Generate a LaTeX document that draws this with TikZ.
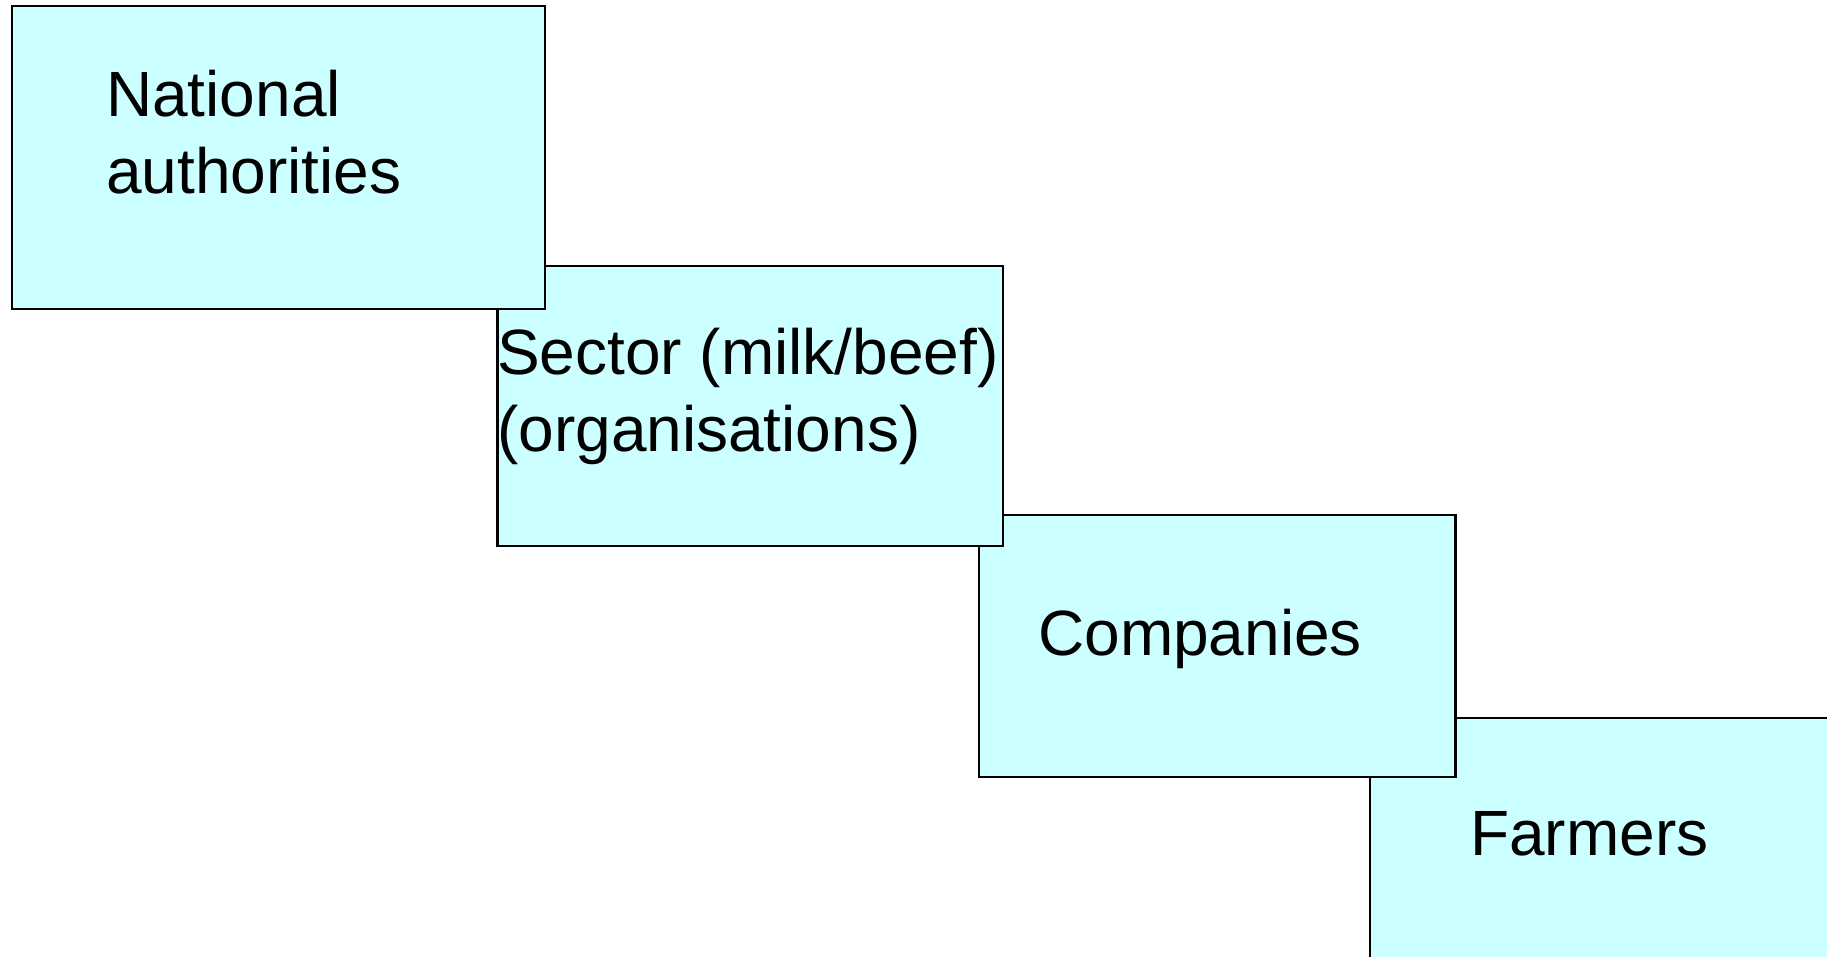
\documentclass[tikz,border=0pt]{standalone}
\usepackage{fontspec}
\setmainfont{Liberation Sans}
\definecolor{boxfill}{RGB}{204,255,255}
\begin{document}
\begin{tikzpicture}[x=1pt,y=-1pt,
  box/.style={draw=black, fill=boxfill, line width=2.2pt, rectangle, inner sep=0pt, outer sep=0pt, anchor=north west},
  lbl/.style={inner sep=0pt, anchor=base west, font=\fontsize{64}{77}\selectfont}]
\useasboundingbox (0,0) rectangle (1827,956);
% boxes, drawn from back to front
\node[box, minimum width=560pt, minimum height=320pt] (farmers) at (1370,718) {};
\node[box, minimum width=476.5pt, minimum height=262pt] (companies) at (979,515) {};
\node[box, minimum width=505.5pt, minimum height=280pt] (sector) at (497.5,266) {};
\node[box, minimum width=533pt, minimum height=303pt] (national) at (12,6) {};
% labels
\node[lbl] (nat1) at (106,116) {National};
\node[lbl] (nat2) at (106,193) {authorities};
\node[lbl] (sec1) at (497,374) {Sector (milk/beef)};
\node[lbl] (sec2) at (497,451.5) {(organisations)};
\node[lbl] (comp) at (1038,655) {Companies};
\node[lbl] (farm) at (1470,855) {Farmers};
\end{tikzpicture}
\end{document}
